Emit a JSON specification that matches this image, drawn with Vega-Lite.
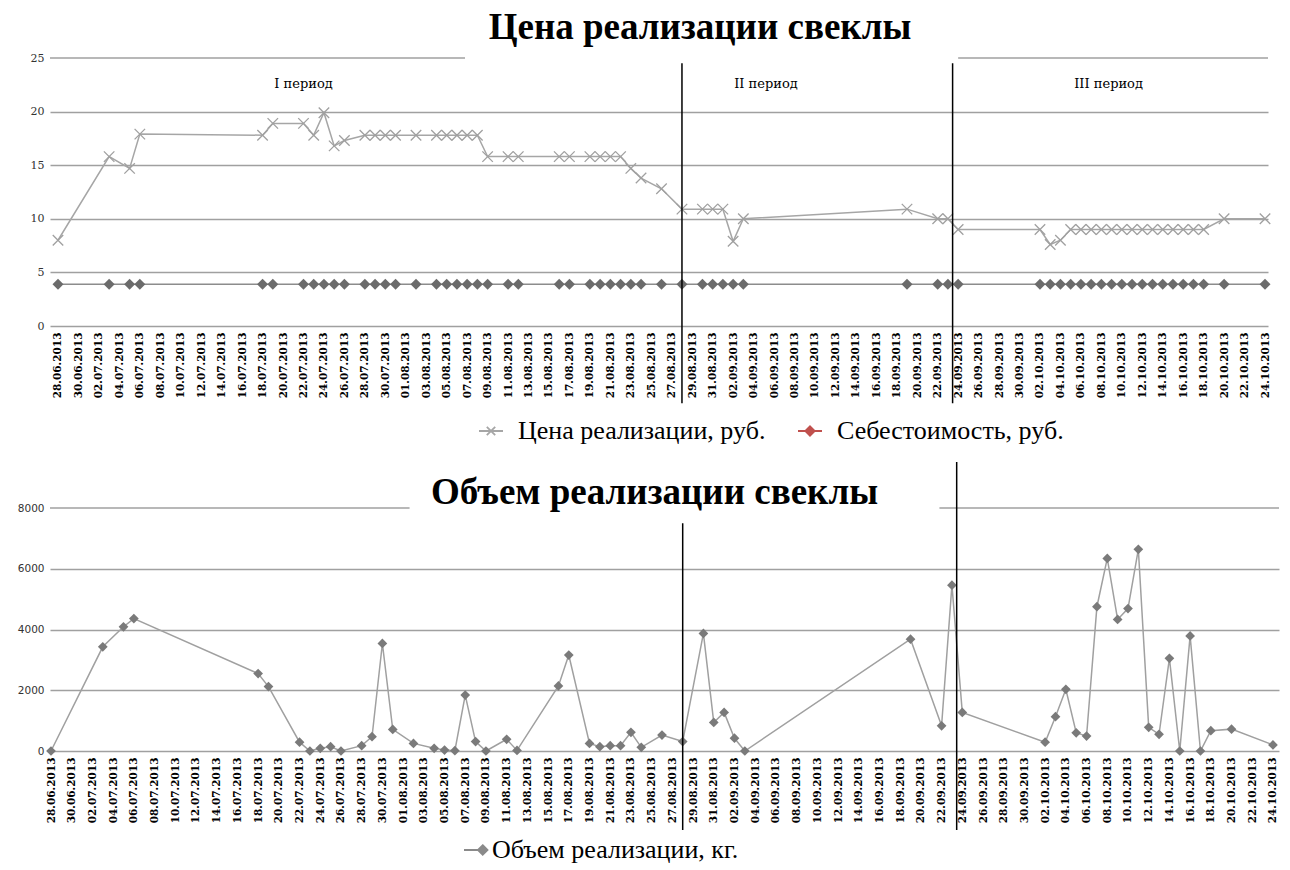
{
  "$schema": "https://vega.github.io/schema/vega-lite/v6.json",
  "background": "white",
  "padding": {"left": 0, "top": 9, "right": 0, "bottom": 0},
  "spacing": 17,
  "resolve": {"scale": {"color": "independent", "shape": "independent"}, "legend": {"color": "independent", "shape": "independent"}},
  "config": {"view": {"stroke": null}, "axis": {"labelOverlap": false}, "axisX": {"labelOverlap": false}},
  "datasets": {
    "sales": [
      {"date": "2013-06-28", "price": 8, "cost": 3.9, "volume": 0},
      {"date": "2013-07-03", "price": 15.8, "cost": 3.9, "volume": 3430},
      {"date": "2013-07-05", "price": 14.7, "cost": 3.9, "volume": 4090},
      {"date": "2013-07-06", "price": 17.9, "cost": 3.9, "volume": 4360},
      {"date": "2013-07-18", "price": 17.8, "cost": 3.9, "volume": 2550},
      {"date": "2013-07-19", "price": 18.9, "cost": 3.9, "volume": 2120},
      {"date": "2013-07-22", "price": 18.9, "cost": 3.9, "volume": 290},
      {"date": "2013-07-23", "price": 17.8, "cost": 3.9, "volume": 0},
      {"date": "2013-07-24", "price": 19.9, "cost": 3.9, "volume": 90},
      {"date": "2013-07-25", "price": 16.8, "cost": 3.9, "volume": 140},
      {"date": "2013-07-26", "price": 17.3, "cost": 3.9, "volume": 0},
      {"date": "2013-07-28", "price": 17.8, "cost": 3.9, "volume": 175},
      {"date": "2013-07-29", "price": 17.8, "cost": 3.9, "volume": 470},
      {"date": "2013-07-30", "price": 17.8, "cost": 3.9, "volume": 3540},
      {"date": "2013-07-31", "price": 17.8, "cost": 3.9, "volume": 710},
      {"date": "2013-08-02", "price": 17.8, "cost": 3.9, "volume": 250},
      {"date": "2013-08-04", "price": 17.8, "cost": 3.9, "volume": 90},
      {"date": "2013-08-05", "price": 17.8, "cost": 3.9, "volume": 30},
      {"date": "2013-08-06", "price": 17.8, "cost": 3.9, "volume": 10},
      {"date": "2013-08-07", "price": 17.8, "cost": 3.9, "volume": 1840},
      {"date": "2013-08-08", "price": 17.8, "cost": 3.9, "volume": 310},
      {"date": "2013-08-09", "price": 15.8, "cost": 3.9, "volume": 0},
      {"date": "2013-08-11", "price": 15.8, "cost": 3.9, "volume": 385},
      {"date": "2013-08-12", "price": 15.8, "cost": 3.9, "volume": 20},
      {"date": "2013-08-16", "price": 15.8, "cost": 3.9, "volume": 2140},
      {"date": "2013-08-17", "price": 15.8, "cost": 3.9, "volume": 3160},
      {"date": "2013-08-19", "price": 15.8, "cost": 3.9, "volume": 250},
      {"date": "2013-08-20", "price": 15.8, "cost": 3.9, "volume": 140},
      {"date": "2013-08-21", "price": 15.8, "cost": 3.9, "volume": 175},
      {"date": "2013-08-22", "price": 15.8, "cost": 3.9, "volume": 175},
      {"date": "2013-08-23", "price": 14.7, "cost": 3.9, "volume": 615},
      {"date": "2013-08-24", "price": 13.8, "cost": 3.9, "volume": 120},
      {"date": "2013-08-26", "price": 12.8, "cost": 3.9, "volume": 525},
      {"date": "2013-08-28", "price": 10.9, "cost": 3.9, "volume": 310},
      {"date": "2013-08-30", "price": 10.9, "cost": 3.9, "volume": 3870},
      {"date": "2013-08-31", "price": 10.9, "cost": 3.9, "volume": 940},
      {"date": "2013-09-01", "price": 10.9, "cost": 3.9, "volume": 1270},
      {"date": "2013-09-02", "price": 7.9, "cost": 3.9, "volume": 420},
      {"date": "2013-09-03", "price": 10, "cost": 3.9, "volume": 0},
      {"date": "2013-09-19", "price": 10.9, "cost": 3.9, "volume": 3680},
      {"date": "2013-09-22", "price": 10, "cost": 3.9, "volume": 830},
      {"date": "2013-09-23", "price": 10, "cost": 3.9, "volume": 5460},
      {"date": "2013-09-24", "price": 9, "cost": 3.9, "volume": 1270},
      {"date": "2013-10-02", "price": 9, "cost": 3.9, "volume": 290},
      {"date": "2013-10-03", "price": 7.6, "cost": 3.9, "volume": 1130},
      {"date": "2013-10-04", "price": 8, "cost": 3.9, "volume": 2030},
      {"date": "2013-10-05", "price": 9, "cost": 3.9, "volume": 600},
      {"date": "2013-10-06", "price": 9, "cost": 3.9, "volume": 490},
      {"date": "2013-10-07", "price": 9, "cost": 3.9, "volume": 4750},
      {"date": "2013-10-08", "price": 9, "cost": 3.9, "volume": 6340},
      {"date": "2013-10-09", "price": 9, "cost": 3.9, "volume": 4330},
      {"date": "2013-10-10", "price": 9, "cost": 3.9, "volume": 4690},
      {"date": "2013-10-11", "price": 9, "cost": 3.9, "volume": 6640},
      {"date": "2013-10-12", "price": 9, "cost": 3.9, "volume": 780},
      {"date": "2013-10-13", "price": 9, "cost": 3.9, "volume": 550},
      {"date": "2013-10-14", "price": 9, "cost": 3.9, "volume": 3050},
      {"date": "2013-10-15", "price": 9, "cost": 3.9, "volume": 0},
      {"date": "2013-10-16", "price": 9, "cost": 3.9, "volume": 3790},
      {"date": "2013-10-17", "price": 9, "cost": 3.9, "volume": 0},
      {"date": "2013-10-18", "price": 9, "cost": 3.9, "volume": 670},
      {"date": "2013-10-20", "price": 10, "cost": 3.9, "volume": 720},
      {"date": "2013-10-24", "price": 10, "cost": 3.9, "volume": 200}
    ],
    "bounds": [
      {"period": "II", "d": "2013-08-28T00:00:00Z"},
      {"period": "III", "d": "2013-09-23T11:00:00Z"}
    ],
    "periods": [
      {"label": "I период", "at": "2013-07-22T00:00:00Z"},
      {"label": "II период", "at": "2013-09-05T05:00:00Z"},
      {"label": "III период", "at": "2013-10-08T17:00:00Z"}
    ]
  },
  "vconcat": [
    {
      "width": 1218,
      "height": 268,
      "title": {"text": "Цена реализации свеклы", "font": "Liberation Serif", "fontSize": 37, "fontWeight": "bold", "color": "#000000", "offset": 5, "frame": "group", "anchor": "middle", "dx": 41},
      "data": {"name": "sales"},
      "transform": [{"fold": ["price", "cost"], "as": ["series", "value"]}],
      "layer": [
        {
          "transform": [{"filter": "datum.series === 'price'"}],
          "mark": {"type": "line", "color": "#a6a6a6", "strokeWidth": 1.5},
          "encoding": {
            "x": {
              "field": "date", "type": "temporal",
              "scale": {"type": "utc", "domain": [{"year": 2013, "month": 6, "date": 27, "hours": 5, "minutes": 15, "utc": true}, {"year": 2013, "month": 10, "date": 24, "hours": 7, "utc": true}]},
              "axis": {
                "title": null, "format": "%d.%m.%Y", "labelAngle": -90, "labelFont": "DejaVu Serif", "labelFontWeight": "bold", "labelFontSize": 10.5, "labelColor": "#000000",
                "domain": false, "ticks": false, "grid": false, "labelPadding": 6, "labelOverlap": false, "labelBound": false, "labelFlush": false, "tickCount": 200,
                "values": [
                  {"year": 2013, "month": 6, "date": 28, "utc": true}, {"year": 2013, "month": 6, "date": 30, "utc": true},
                  {"year": 2013, "month": 7, "date": 2, "utc": true}, {"year": 2013, "month": 7, "date": 4, "utc": true}, {"year": 2013, "month": 7, "date": 6, "utc": true}, {"year": 2013, "month": 7, "date": 8, "utc": true}, {"year": 2013, "month": 7, "date": 10, "utc": true}, {"year": 2013, "month": 7, "date": 12, "utc": true}, {"year": 2013, "month": 7, "date": 14, "utc": true}, {"year": 2013, "month": 7, "date": 16, "utc": true}, {"year": 2013, "month": 7, "date": 18, "utc": true}, {"year": 2013, "month": 7, "date": 20, "utc": true}, {"year": 2013, "month": 7, "date": 22, "utc": true}, {"year": 2013, "month": 7, "date": 24, "utc": true}, {"year": 2013, "month": 7, "date": 26, "utc": true}, {"year": 2013, "month": 7, "date": 28, "utc": true}, {"year": 2013, "month": 7, "date": 30, "utc": true},
                  {"year": 2013, "month": 8, "date": 1, "utc": true}, {"year": 2013, "month": 8, "date": 3, "utc": true}, {"year": 2013, "month": 8, "date": 5, "utc": true}, {"year": 2013, "month": 8, "date": 7, "utc": true}, {"year": 2013, "month": 8, "date": 9, "utc": true}, {"year": 2013, "month": 8, "date": 11, "utc": true}, {"year": 2013, "month": 8, "date": 13, "utc": true}, {"year": 2013, "month": 8, "date": 15, "utc": true}, {"year": 2013, "month": 8, "date": 17, "utc": true}, {"year": 2013, "month": 8, "date": 19, "utc": true}, {"year": 2013, "month": 8, "date": 21, "utc": true}, {"year": 2013, "month": 8, "date": 23, "utc": true}, {"year": 2013, "month": 8, "date": 25, "utc": true}, {"year": 2013, "month": 8, "date": 27, "utc": true}, {"year": 2013, "month": 8, "date": 29, "utc": true}, {"year": 2013, "month": 8, "date": 31, "utc": true},
                  {"year": 2013, "month": 9, "date": 2, "utc": true}, {"year": 2013, "month": 9, "date": 4, "utc": true}, {"year": 2013, "month": 9, "date": 6, "utc": true}, {"year": 2013, "month": 9, "date": 8, "utc": true}, {"year": 2013, "month": 9, "date": 10, "utc": true}, {"year": 2013, "month": 9, "date": 12, "utc": true}, {"year": 2013, "month": 9, "date": 14, "utc": true}, {"year": 2013, "month": 9, "date": 16, "utc": true}, {"year": 2013, "month": 9, "date": 18, "utc": true}, {"year": 2013, "month": 9, "date": 20, "utc": true}, {"year": 2013, "month": 9, "date": 22, "utc": true}, {"year": 2013, "month": 9, "date": 24, "utc": true}, {"year": 2013, "month": 9, "date": 26, "utc": true}, {"year": 2013, "month": 9, "date": 28, "utc": true}, {"year": 2013, "month": 9, "date": 30, "utc": true},
                  {"year": 2013, "month": 10, "date": 2, "utc": true}, {"year": 2013, "month": 10, "date": 4, "utc": true}, {"year": 2013, "month": 10, "date": 6, "utc": true}, {"year": 2013, "month": 10, "date": 8, "utc": true}, {"year": 2013, "month": 10, "date": 10, "utc": true}, {"year": 2013, "month": 10, "date": 12, "utc": true}, {"year": 2013, "month": 10, "date": 14, "utc": true}, {"year": 2013, "month": 10, "date": 16, "utc": true}, {"year": 2013, "month": 10, "date": 18, "utc": true}, {"year": 2013, "month": 10, "date": 20, "utc": true}, {"year": 2013, "month": 10, "date": 22, "utc": true}, {"year": 2013, "month": 10, "date": 24, "utc": true}
                ]
              }
            },
            "y": {
              "field": "value", "type": "quantitative",
              "scale": {"domain": [0, 25], "nice": false},
              "axis": {
                "title": null, "values": [0, 5, 10, 15, 20, 25], "labelFont": "DejaVu Serif", "labelFontSize": 11, "labelColor": "#333333",
                "domain": false, "ticks": false, "grid": true, "gridColor": "#a0a0a0", "gridWidth": 1.5,
                "gridOpacity": {"condition": {"test": "datum.value === 25", "value": 0}, "value": 1},
                "labelPadding": 6, "minExtent": 50
              }
            }
          }
        },
        {
          "transform": [{"filter": "datum.series === 'cost'"}],
          "mark": {"type": "line", "color": "#8c8c8c", "strokeWidth": 1.5},
          "encoding": {
            "x": {"field": "date", "type": "temporal", "scale": {"type": "utc"}},
            "y": {"field": "value", "type": "quantitative"}
          }
        },
        {
          "transform": [{"filter": "datum.series === 'price'"}],
          "mark": {"type": "point", "shape": "M-1,-1L1,1M-1,1L1,-1", "filled": false, "color": "#a0a0a0", "size": 110, "strokeWidth": 1.3, "opacity": 1},
          "encoding": {
            "x": {"field": "date", "type": "temporal", "scale": {"type": "utc"}},
            "y": {"field": "value", "type": "quantitative"}
          }
        },
        {
          "transform": [{"filter": "datum.series === 'cost'"}],
          "mark": {"type": "point", "shape": "diamond", "filled": true, "color": "#6b6b6b", "size": 120, "opacity": 1},
          "encoding": {
            "x": {"field": "date", "type": "temporal", "scale": {"type": "utc"}},
            "y": {"field": "value", "type": "quantitative"}
          }
        },
        {
          "transform": [{"filter": "false"}],
          "mark": {"type": "point", "shape": "M-1,0L1,0M-0.35,-0.35L0.35,0.35M-0.35,0.35L0.35,-0.35", "filled": false, "size": 576, "strokeWidth": 1.8, "opacity": 1},
          "encoding": {
            "x": {"field": "date", "type": "temporal", "scale": {"type": "utc"}},
            "y": {"field": "value", "type": "quantitative"},
            "color": {
              "field": "series", "type": "nominal",
              "scale": {"domain": ["price"], "range": ["#a6a6a6"]},
              "legend": {
                "orient": "none", "legendX": 428, "legendY": 360, "direction": "horizontal", "title": null, "padding": 0,
                "labelExpr": "'Цена реализации, руб.'",
                "labelFont": "Liberation Serif", "labelFontSize": 26, "labelColor": "#000000", "labelLimit": 500,
                "labelOffset": 14, "symbolSize": 576, "symbolStrokeWidth": 1.8,
                "symbolType": "M-1,0L1,0M-0.35,-0.35L0.35,0.35M-0.35,0.35L0.35,-0.35"
              }
            }
          }
        },
        {
          "transform": [{"filter": "false"}],
          "mark": {"type": "point", "filled": false, "color": "#c0504d", "size": 576, "strokeWidth": 2, "opacity": 1},
          "encoding": {
            "x": {"field": "date", "type": "temporal", "scale": {"type": "utc"}},
            "y": {"field": "value", "type": "quantitative"},
            "shape": {
              "field": "series", "type": "nominal",
              "scale": {"domain": ["cost"], "range": ["M-1,0L1,0M0,-0.38L0.38,0L0,0.38L-0.38,0ZM0,-0.24L0.24,0L0,0.24L-0.24,0ZM0,-0.1L0.1,0L0,0.1L-0.1,0Z"]},
              "legend": {
                "orient": "none", "legendX": 747, "legendY": 360, "direction": "horizontal", "title": null, "padding": 0,
                "labelExpr": "'Себестоимость, руб.'",
                "labelFont": "Liberation Serif", "labelFontSize": 26, "labelColor": "#000000", "labelLimit": 500,
                "labelOffset": 14, "symbolSize": 576, "symbolStrokeWidth": 2
              }
            }
          }
        },
        {
          "data": {"values": [{}]},
          "mark": {"type": "rule", "color": "#a0a0a0", "strokeWidth": 1.5},
          "encoding": {
            "x": {"datum": {"year": 2013, "month": 6, "date": 27, "hours": 5, "minutes": 15, "utc": true}, "type": "temporal", "scale": {"type": "utc"}},
            "x2": {"datum": {"year": 2013, "month": 8, "date": 6, "hours": 19, "utc": true}},
            "y": {"datum": 25, "type": "quantitative"}
          }
        },
        {
          "data": {"values": [{}]},
          "mark": {"type": "rule", "color": "#a0a0a0", "strokeWidth": 1.5},
          "encoding": {
            "x": {"datum": {"year": 2013, "month": 9, "date": 24, "utc": true}, "type": "temporal", "scale": {"type": "utc"}},
            "x2": {"datum": {"year": 2013, "month": 10, "date": 24, "hours": 7, "utc": true}},
            "y": {"datum": 25, "type": "quantitative"}
          }
        },
        {
          "data": {"name": "bounds"},
          "mark": {"type": "rule", "color": "#000000", "strokeWidth": 1.5},
          "encoding": {
            "x": {"field": "d", "type": "temporal", "scale": {"type": "utc"}},
            "y": {"datum": 24.5, "type": "quantitative"},
            "y2": {"datum": -7.2}
          }
        },
        {
          "data": {"name": "periods"},
          "mark": {"type": "text", "font": "DejaVu Serif", "fontSize": 13, "color": "#000000"},
          "encoding": {
            "x": {"field": "at", "type": "temporal", "scale": {"type": "utc"}},
            "y": {"datum": 22.6, "type": "quantitative"},
            "text": {"field": "label"}
          }
        }
      ]
    },
    {
      "width": 1229,
      "height": 243,
      "title": {"text": "Объем реализации свеклы", "font": "Liberation Serif", "fontSize": 37, "fontWeight": "bold", "color": "#000000", "offset": -51, "frame": "group", "anchor": "middle", "dx": -10},
      "data": {"name": "sales"},
      "layer": [
        {
          "mark": {"type": "line", "color": "#a0a0a0", "strokeWidth": 1.5},
          "encoding": {
            "x": {
              "field": "date", "type": "temporal",
              "scale": {"type": "utc", "domain": [{"year": 2013, "month": 6, "date": 27, "hours": 21, "minutes": 40, "utc": true}, {"year": 2013, "month": 10, "date": 24, "hours": 14, "utc": true}]},
              "axis": {
                "title": null, "format": "%d.%m.%Y", "labelAngle": -90, "labelFont": "DejaVu Serif", "labelFontWeight": "bold", "labelFontSize": 10.5, "labelColor": "#000000",
                "domain": false, "ticks": false, "grid": false, "labelPadding": 6, "labelOverlap": false, "labelBound": false, "labelFlush": false, "tickCount": 200,
                "values": [
                  {"year": 2013, "month": 6, "date": 28, "utc": true}, {"year": 2013, "month": 6, "date": 30, "utc": true},
                  {"year": 2013, "month": 7, "date": 2, "utc": true}, {"year": 2013, "month": 7, "date": 4, "utc": true}, {"year": 2013, "month": 7, "date": 6, "utc": true}, {"year": 2013, "month": 7, "date": 8, "utc": true}, {"year": 2013, "month": 7, "date": 10, "utc": true}, {"year": 2013, "month": 7, "date": 12, "utc": true}, {"year": 2013, "month": 7, "date": 14, "utc": true}, {"year": 2013, "month": 7, "date": 16, "utc": true}, {"year": 2013, "month": 7, "date": 18, "utc": true}, {"year": 2013, "month": 7, "date": 20, "utc": true}, {"year": 2013, "month": 7, "date": 22, "utc": true}, {"year": 2013, "month": 7, "date": 24, "utc": true}, {"year": 2013, "month": 7, "date": 26, "utc": true}, {"year": 2013, "month": 7, "date": 28, "utc": true}, {"year": 2013, "month": 7, "date": 30, "utc": true},
                  {"year": 2013, "month": 8, "date": 1, "utc": true}, {"year": 2013, "month": 8, "date": 3, "utc": true}, {"year": 2013, "month": 8, "date": 5, "utc": true}, {"year": 2013, "month": 8, "date": 7, "utc": true}, {"year": 2013, "month": 8, "date": 9, "utc": true}, {"year": 2013, "month": 8, "date": 11, "utc": true}, {"year": 2013, "month": 8, "date": 13, "utc": true}, {"year": 2013, "month": 8, "date": 15, "utc": true}, {"year": 2013, "month": 8, "date": 17, "utc": true}, {"year": 2013, "month": 8, "date": 19, "utc": true}, {"year": 2013, "month": 8, "date": 21, "utc": true}, {"year": 2013, "month": 8, "date": 23, "utc": true}, {"year": 2013, "month": 8, "date": 25, "utc": true}, {"year": 2013, "month": 8, "date": 27, "utc": true}, {"year": 2013, "month": 8, "date": 29, "utc": true}, {"year": 2013, "month": 8, "date": 31, "utc": true},
                  {"year": 2013, "month": 9, "date": 2, "utc": true}, {"year": 2013, "month": 9, "date": 4, "utc": true}, {"year": 2013, "month": 9, "date": 6, "utc": true}, {"year": 2013, "month": 9, "date": 8, "utc": true}, {"year": 2013, "month": 9, "date": 10, "utc": true}, {"year": 2013, "month": 9, "date": 12, "utc": true}, {"year": 2013, "month": 9, "date": 14, "utc": true}, {"year": 2013, "month": 9, "date": 16, "utc": true}, {"year": 2013, "month": 9, "date": 18, "utc": true}, {"year": 2013, "month": 9, "date": 20, "utc": true}, {"year": 2013, "month": 9, "date": 22, "utc": true}, {"year": 2013, "month": 9, "date": 24, "utc": true}, {"year": 2013, "month": 9, "date": 26, "utc": true}, {"year": 2013, "month": 9, "date": 28, "utc": true}, {"year": 2013, "month": 9, "date": 30, "utc": true},
                  {"year": 2013, "month": 10, "date": 2, "utc": true}, {"year": 2013, "month": 10, "date": 4, "utc": true}, {"year": 2013, "month": 10, "date": 6, "utc": true}, {"year": 2013, "month": 10, "date": 8, "utc": true}, {"year": 2013, "month": 10, "date": 10, "utc": true}, {"year": 2013, "month": 10, "date": 12, "utc": true}, {"year": 2013, "month": 10, "date": 14, "utc": true}, {"year": 2013, "month": 10, "date": 16, "utc": true}, {"year": 2013, "month": 10, "date": 18, "utc": true}, {"year": 2013, "month": 10, "date": 20, "utc": true}, {"year": 2013, "month": 10, "date": 22, "utc": true}, {"year": 2013, "month": 10, "date": 24, "utc": true}
                ]
              }
            },
            "y": {
              "field": "volume", "type": "quantitative",
              "scale": {"domain": [0, 8000], "nice": false},
              "axis": {
                "title": null, "values": [0, 1000, 2000, 3000, 4000, 5000, 6000, 7000, 8000], "format": "d", "labelFont": "DejaVu Sans", "labelFontSize": 10.5, "labelColor": "#333333",
                "domain": false, "ticks": false, "grid": true, "gridColor": "#a0a0a0", "gridWidth": 1.5,
                "gridOpacity": {"condition": {"test": "datum.value === 8000", "value": 0}, "value": 1},
                "labelPadding": 6, "minExtent": 45
              }
            }
          }
        },
        {
          "mark": {"type": "point", "shape": "diamond", "filled": true, "color": "#7a7a7a", "size": 95, "opacity": 1},
          "encoding": {
            "x": {"field": "date", "type": "temporal", "scale": {"type": "utc"}},
            "y": {"field": "volume", "type": "quantitative"}
          }
        },
        {
          "transform": [{"filter": "false"}],
          "mark": {"type": "point", "shape": "M-1,0L0.15,0M0.56,-0.4L0.96,0L0.56,0.4L0.16,0ZM0.56,-0.26L0.82,0L0.56,0.26L0.3,0ZM0.56,-0.12L0.68,0L0.56,0.12L0.44,0Z", "filled": false, "size": 576, "strokeWidth": 1.8, "opacity": 1},
          "encoding": {
            "x": {"field": "date", "type": "temporal", "scale": {"type": "utc"}},
            "y": {"field": "volume", "type": "quantitative"},
            "color": {
              "field": "series", "type": "nominal",
              "scale": {"domain": ["volume"], "range": ["#8a8a8a"]},
              "legend": {
                "orient": "none", "legendX": 413, "legendY": 329, "direction": "horizontal", "title": null, "padding": 0,
                "labelExpr": "'Объем реализации, кг.'",
                "labelFont": "Liberation Serif", "labelFontSize": 26, "labelColor": "#000000", "labelLimit": 500,
                "labelOffset": 3, "symbolSize": 576, "symbolStrokeWidth": 1.8,
                "symbolType": "M-1,0L0.15,0M0.56,-0.4L0.96,0L0.56,0.4L0.16,0ZM0.56,-0.26L0.82,0L0.56,0.26L0.3,0ZM0.56,-0.12L0.68,0L0.56,0.12L0.44,0Z"
              }
            }
          }
        },
        {
          "data": {"values": [{}]},
          "mark": {"type": "rule", "color": "#a0a0a0", "strokeWidth": 1.5},
          "encoding": {
            "x": {"datum": {"year": 2013, "month": 6, "date": 27, "hours": 21, "minutes": 40, "utc": true}, "type": "temporal", "scale": {"type": "utc"}},
            "x2": {"datum": {"year": 2013, "month": 8, "date": 1, "hours": 15, "utc": true}},
            "y": {"datum": 8000, "type": "quantitative"}
          }
        },
        {
          "data": {"values": [{}]},
          "mark": {"type": "rule", "color": "#a0a0a0", "strokeWidth": 1.5},
          "encoding": {
            "x": {"datum": {"year": 2013, "month": 9, "date": 21, "hours": 19, "utc": true}, "type": "temporal", "scale": {"type": "utc"}},
            "x2": {"datum": {"year": 2013, "month": 10, "date": 24, "hours": 14, "utc": true}},
            "y": {"datum": 8000, "type": "quantitative"}
          }
        },
        {
          "data": {"name": "bounds"},
          "transform": [{"filter": "datum.period === 'II'"}],
          "mark": {"type": "rule", "color": "#000000", "strokeWidth": 1.5},
          "encoding": {
            "x": {"field": "d", "type": "temporal", "scale": {"type": "utc"}},
            "y": {"datum": 7500, "type": "quantitative"},
            "y2": {"datum": -2600}
          }
        },
        {
          "data": {"name": "bounds"},
          "transform": [{"filter": "datum.period === 'III'"}],
          "mark": {"type": "rule", "color": "#000000", "strokeWidth": 1.5},
          "encoding": {
            "x": {"field": "d", "type": "temporal", "scale": {"type": "utc"}},
            "y": {"datum": 9515, "type": "quantitative"},
            "y2": {"datum": -2600}
          }
        }
      ]
    }
  ]
}
